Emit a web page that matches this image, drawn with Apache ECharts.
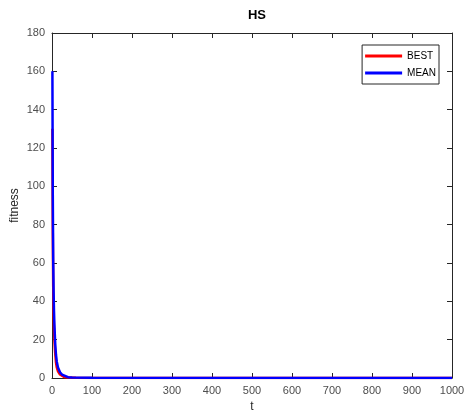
<!DOCTYPE html>
<html>
<head>
<meta charset="utf-8">
<script src="https://cdn.jsdelivr.net/npm/echarts@6/dist/echarts.min.js"></script>
<style>
	html, body { margin: 0; padding: 0; background: #fff; }
	#chart { width: 465px; height: 416px; }
</style>
</head>
<body>
<div id="chart"></div>
<script>
// values (t, fitness)
let bestT = [1, 2, 3, 4, 5, 6, 8, 10, 12, 15, 20, 25, 30, 40, 60, 100, 1000];
let bestY = [130, 75, 48, 34, 26, 20, 13, 8, 5.5, 3.5, 1.8, 1, 0.5, 0.2, 0.1, 0.05, 0.02];
let meanT = [1, 2, 3, 4, 5, 6, 8, 10, 12, 15, 20, 25, 30, 40, 50, 100, 1000];
let meanY = [160, 95, 62, 45, 35, 28, 18, 12, 8.5, 5.5, 3, 1.8, 1, 0.4, 0.2, 0.1, 0.05];
let xTicks = [0, 100, 200, 300, 400, 500, 600, 700, 800, 900, 1000];
let yTicks = [0, 20, 40, 60, 80, 100, 120, 140, 160, 180];

let font = 'Liberation Sans, Arial, sans-serif';
let axisColor = '#262626';

let pairs = (xs, ys) => xs.map((x, i) => [x, ys[i]]);

let baseAxis = (ticks, extra) => ({
	type: 'value',
	min: ticks[0],
	max: ticks[ticks.length - 1],
	interval: ticks[1] - ticks[0],
	axisLine: {show: true, onZero: false, lineStyle: {color: axisColor, width: 1}},
	axisTick: {show: true, inside: true, length: 5, lineStyle: {color: axisColor}},
	splitLine: {show: false},
	...extra,
});

let chart = echarts.init(document.getElementById('chart'));
chart.setOption({
	animation: false,
	backgroundColor: '#fff',
	title: {
		text: 'HS',
		left: 252,
		textAlign: 'center',
		top: 4,
		textStyle: {fontFamily: font, fontSize: 13, fontWeight: 'bold', color: '#000'},
	},
	grid: {left: 52, right: 13, top: 33, bottom: 38, outerBoundsMode: 'none'},
	legend: {
		right: 26,
		top: 45,
		orient: 'vertical',
		align: 'left',
		icon: 'rect',
		itemWidth: 37,
		itemHeight: 3,
		itemGap: 5,
		padding: [5, 3, 5, 3],
		borderColor: axisColor,
		borderWidth: 1,
		backgroundColor: '#fff',
		textStyle: {fontFamily: font, fontSize: 10, color: '#000', height: 12, lineHeight: 12},
		data: ['BEST', 'MEAN'],
	},
	xAxis: [
		baseAxis(xTicks, {
			position: 'bottom',
			name: 't',
			nameLocation: 'middle',
			nameGap: 23,
			nameTextStyle: {fontFamily: font, fontSize: 12, color: '#262626'},
			axisLabel: {fontFamily: font, fontSize: 11, color: '#4d4d4d', margin: 7, formatter: v => String(v)},
		}),
		baseAxis(xTicks, {position: 'top', axisLabel: {show: false}}),
	],
	yAxis: [
		baseAxis(yTicks, {
			position: 'left',
			name: 'fitness',
			nameLocation: 'middle',
			nameGap: 31,
			nameMoveOverlap: false,
			nameTextStyle: {fontFamily: font, fontSize: 12, color: '#262626'},
			axisLabel: {fontFamily: font, fontSize: 11, color: '#4d4d4d', margin: 7},
		}),
		baseAxis(yTicks, {position: 'right', axisLabel: {show: false}}),
	],
	series: [
		{
			name: 'BEST',
			type: 'line',
			symbol: 'none',
			color: '#ff0000',
			lineStyle: {width: 2.5, color: '#ff0000'},
			data: pairs(bestT, bestY),
		},
		{
			name: 'MEAN',
			type: 'line',
			symbol: 'none',
			color: '#0000ff',
			lineStyle: {width: 2.5, color: '#0000ff'},
			data: pairs(meanT, meanY),
		},
	],
});
</script>
</body>
</html>
